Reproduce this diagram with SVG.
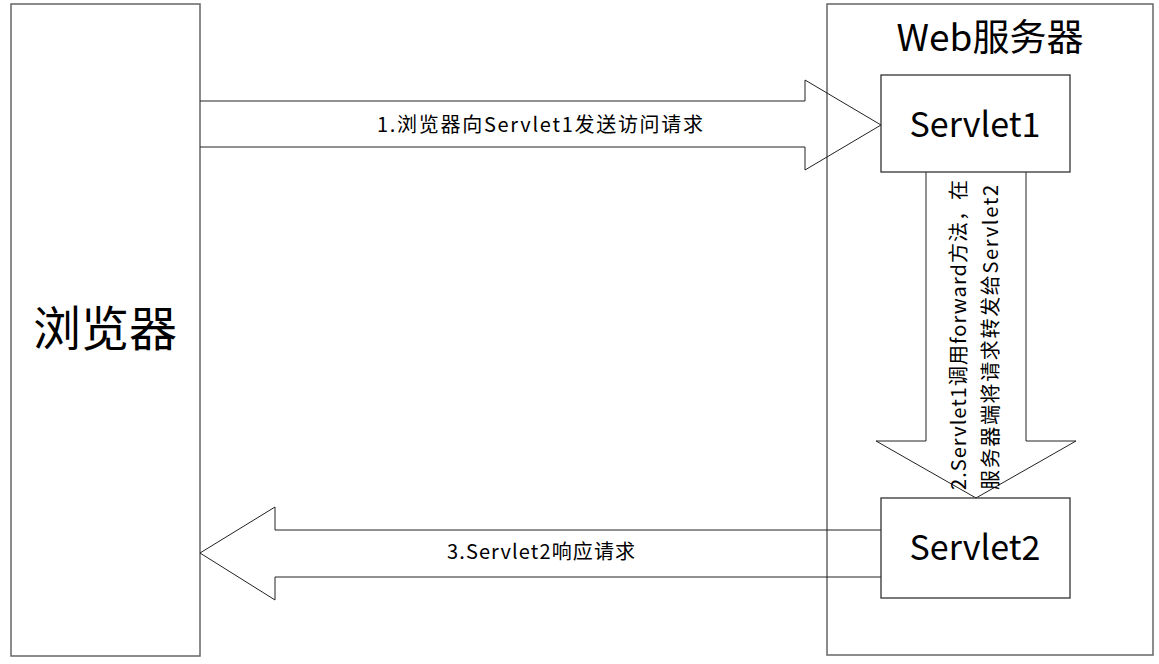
<svg xmlns="http://www.w3.org/2000/svg" width="1159" height="664" viewBox="0 0 1159 664">
<style>
.box{fill:#fff;stroke:#666;stroke-width:1.5}
.sbox{fill:none;stroke:#333;stroke-width:1.3}
.arrow{fill:none;stroke:#222;stroke-width:1}
text{font-family:"Noto Sans CJK SC","Liberation Sans",sans-serif;fill:#000}
.lbl{font-size:20px}
</style>
<rect width="1159" height="664" fill="#fff"/>
<g id="browser">
<rect class="box" x="11" y="4" width="189" height="652"/>
<text x="105" y="346" font-size="48" text-anchor="middle">浏览器</text>
</g>
<g id="webserver">
<rect class="box" x="827" y="4" width="326" height="651"/>
<text x="990" y="51" font-size="37" text-anchor="middle">Web服务器</text>
</g>
<g id="connectors">
<path class="arrow" d="M200,101 H805 V80 L881,125 L805,170 V147 H200"/>
<text class="lbl" x="540" y="132" text-anchor="middle" textLength="326">1.浏览器向Servlet1发送访问请求</text>
<path class="arrow" d="M926,172 V441 H876 L976,498 L1076,441 H1026 V172"/>
<text class="lbl" transform="translate(966,490) rotate(-90)" textLength="310">2.Servlet1调用forward方法，在</text>
<text class="lbl" transform="translate(998,490) rotate(-90)" textLength="305">服务器端将请求转发给Servlet2</text>
<path class="arrow" d="M881,530 H275 V507 L200,553 L275,600 V577 H881"/>
<text class="lbl" x="541" y="559" text-anchor="middle" textLength="188">3.Servlet2响应请求</text>
</g>
<g id="servlet1">
<rect class="sbox" x="881" y="75" width="189" height="97"/>
<text x="975" y="137" font-size="34" text-anchor="middle">Servlet1</text>
</g>
<g id="servlet2">
<rect class="sbox" x="881" y="498" width="189" height="100"/>
<text x="975" y="560" font-size="34" text-anchor="middle">Servlet2</text>
</g>
</svg>
